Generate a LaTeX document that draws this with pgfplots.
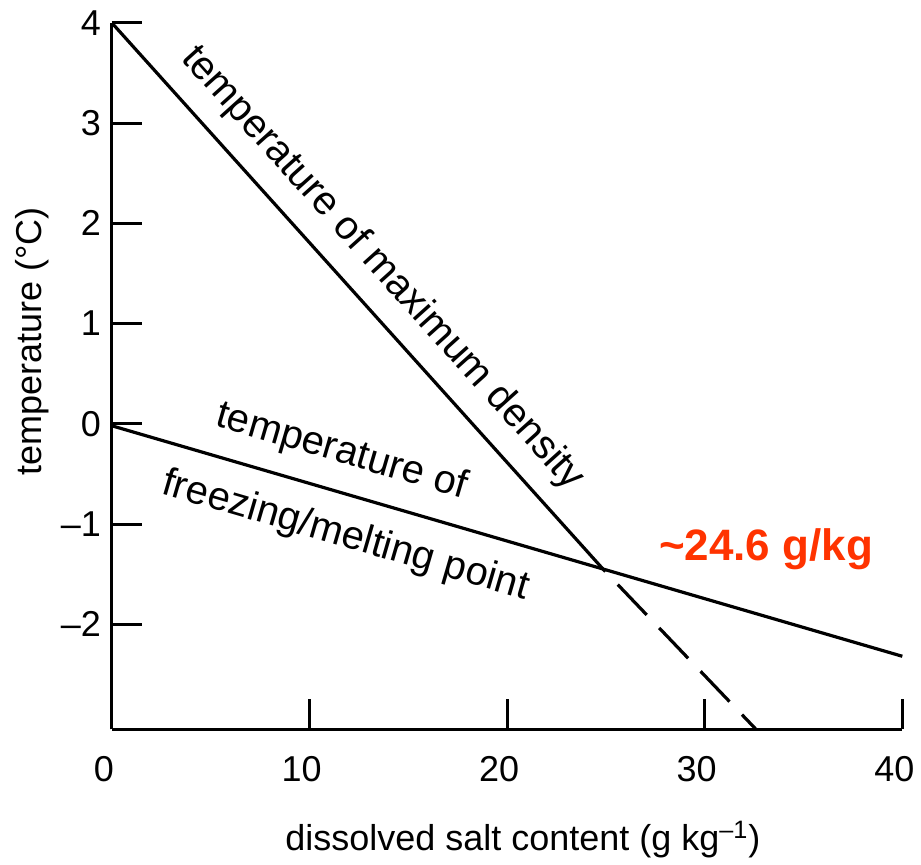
\documentclass[border=0pt]{standalone}
\usepackage{fontspec}
\setmainfont{Liberation Sans}
\usepackage{pgfplots}
\pgfplotsset{compat=1.18}
\definecolor{annot}{RGB}{255,51,0}
\begin{document}
\begin{tikzpicture}
\begin{axis}[
  scale only axis,
  width=395.5pt, height=353.5pt,
  xmin=0, xmax=40, ymin=-3.05, ymax=4,
  axis x line=bottom, axis y line=left,
  axis line style={-, line width=1.5pt},
  xtick={0,10,20,30,40},
  ytick={-2,-1,0,1,2,3,4},
  yticklabels={\textendash2,\textendash1,0,1,2,3,4},
  tick align=inside,
  major tick length=15pt,
  tick style={line width=1.5pt, black},
  ticklabel style={font=\fontsize{18}{20}\selectfont},
  /pgf/number format/assume math mode=true,
  xticklabel style={yshift=-10pt, xshift=-4pt},
  yticklabel style={xshift=-2pt},
  xlabel={dissolved salt content (g kg\textsuperscript{\textendash1})},
  ylabel={temperature (°C)},
  label style={font=\fontsize{18}{20}\selectfont},
  xlabel style={at={(axis description cs:0.52,-0.156)}, anchor=center},
  ylabel style={at={(axis description cs:-0.101,0.549)}, anchor=center},
  clip=false,
]
% temperature of maximum density (solid part)
\addplot[line width=1.6pt] coordinates {(0,4) (24.9,-1.46)}
  node[pos=0.494, sloped, above=5pt, font=\fontsize{20}{22}\selectfont] {temperature of maximum density};
% extrapolation below the freezing point
\addplot[line width=1.6pt, dash pattern=on 21pt off 9pt, dash phase=-10pt] coordinates {(24.9,-1.46) (32.6,-3.05)};
% temperature of freezing / melting point
\addplot[line width=1.6pt] coordinates {(0,-0.02) (40,-2.32)}
  node[pos=0.277, sloped, above=6pt, font=\fontsize{20}{22}\selectfont] {temperature of}
  node[pos=0.31, sloped, below=7pt, font=\fontsize{20}{22}\selectfont] {freezing/melting point};
\node[font=\bfseries\fontsize{22}{24}\selectfont, text=annot] at (axis cs:33.1,-1.25) {\textasciitilde24.6 g/kg};
% page frame around the plot
\path (axis description cs:-0.1416,-0.191) rectangle (axis description cs:1.0228,1.0325);
\end{axis}
\end{tikzpicture}
\end{document}
